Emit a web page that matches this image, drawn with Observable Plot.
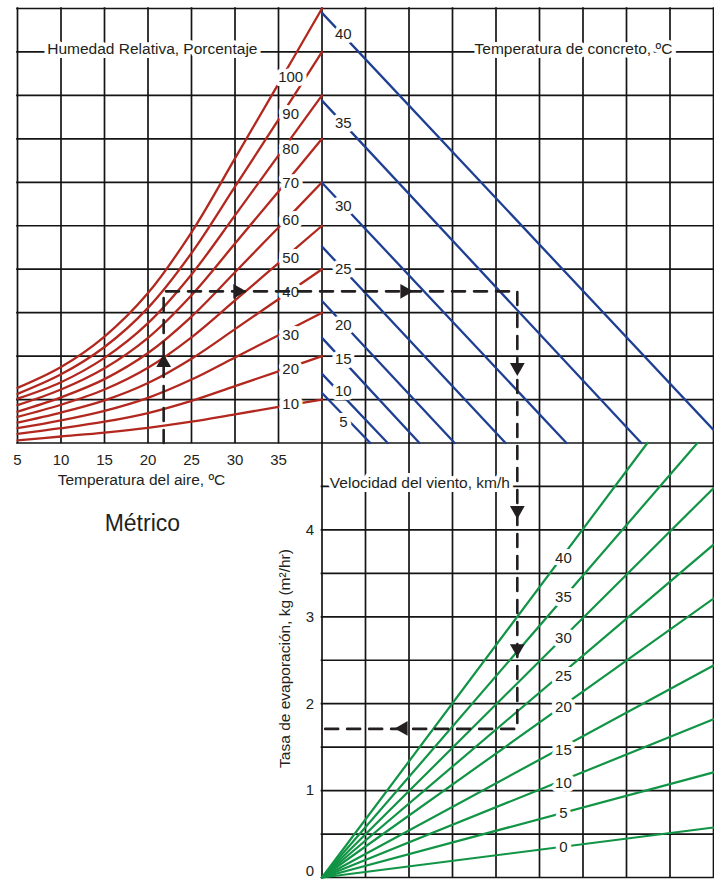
<!DOCTYPE html>
<html><head><meta charset="utf-8">
<script src="https://cdn.jsdelivr.net/npm/d3@7"></script>
<script src="https://cdn.jsdelivr.net/npm/@observablehq/plot@0.6"></script>
<style>
html,body{margin:0;padding:0;background:#fff;}
#chart svg{display:block;}
</style></head><body><div id="chart"></div>
<script>
// ---------- data ----------
// Air temperature (top-left panel, x axis, ºC)
const airTemps = [5, 10, 15, 20, 25, 30, 35, 40];
const airTempTicks = [5, 10, 15, 20, 25, 30, 35];
// Relative humidity curves: height in top panel (grid rows above its bottom) at each air temperature
const rhLevels = [10, 20, 30, 40, 50, 60, 70, 80, 90, 100];
const rhCurves = [
  [0.06, 0.15, 0.24, 0.35, 0.49, 0.66, 0.83, 1.00],
  [0.21, 0.34, 0.49, 0.69, 0.97, 1.31, 1.65, 2.00],
  [0.34, 0.52, 0.74, 1.04, 1.46, 1.97, 2.48, 3.00],
  [0.47, 0.70, 0.98, 1.38, 1.94, 2.62, 3.31, 4.00],
  [0.60, 0.88, 1.23, 1.73, 2.43, 3.28, 4.14, 5.00],
  [0.72, 1.05, 1.47, 2.07, 2.91, 3.93, 4.96, 6.00],
  [0.87, 1.23, 1.72, 2.42, 3.40, 4.59, 5.79, 7.00],
  [1.02, 1.40, 1.96, 2.76, 3.88, 5.24, 6.62, 8.00],
  [1.13, 1.58, 2.21, 3.11, 4.37, 5.90, 7.44, 9.00],
  [1.27, 1.75, 2.45, 3.45, 4.85, 6.55, 8.27, 10.00]
];
const rhLabelAirTemp = 36.4;
const rhLabelHeight = [0.90, 1.71, 2.49, 3.46, 4.26, 5.12, 5.97, 6.77, 7.56, 8.41];

// Concrete temperature lines (top-right panel, grid columns 7..16)
const concreteTemps = [5, 10, 15, 20, 25, 30, 35, 40];
const concreteStartHeight = [1.15, 1.59, 2.42, 3.27, 4.52, 5.99, 7.88, 9.90];
const concreteEndCol = [8.11, 8.51, 9.24, 10.05, 11.22, 12.62, 14.34, 16.0];
const concreteEndHeight = [0, 0, 0, 0, 0, 0, 0, 0.30];
const concreteLabelCol = 7.49;
const concreteLabelHeight = [0.48, 1.20, 1.94, 2.70, 3.99, 5.46, 7.35, 9.42];

// Wind speed lines (bottom panel), evaporation rate kg/(m²·h)
const windSpeeds = [0, 5, 10, 15, 20, 25, 30, 35, 40];
const windEndCol = [16, 16, 16, 16, 16, 16, 16, 15.63, 14.48];
const windEndRate = [0.575, 1.21, 1.82, 2.44, 3.21, 3.83, 4.48, 5.0, 5.0];
const windLabelCol = 12.55;
const windLabelRate = [0.35, 0.74, 1.08, 1.47, 1.96, 2.32, 2.75, 3.22, 3.68];
const rateTicks = [1, 2, 3, 4];
const rateZero = [0];

// Worked example (dashed path)
const exampleAirTemp = 21.8;
const exampleHeight = 3.49;
const exampleCol = 11.49;
const exampleRate = 1.71;
const arrowCols = [3.36, 5.06, 8.90, 11.49, 11.49, 11.49, 8.87];
const arrowRows = [11.85, 13.49, 13.49, 11.74, 8.45, 5.27, 3.43];
const arrowAngles = [0, 90, 90, 180, 180, 180, 270];

// ---------- helpers mapping chart units to the common grid ----------
const col = t => (t - 5) / 5;        // air temperature -> grid column
const topRow = h => 10 + h;          // top panel height -> grid row
const rateRow = r => 2 * r;          // evaporation rate -> grid row

const red = "#b2281f", blue = "#1e3f94", green = "#119445", ink = "#231f20", gridC = "#141414";
const font = "'Liberation Sans', Arial, sans-serif";

const rhData = rhLevels.flatMap((rh, i) => airTemps.map((t, j) => ({rh, x: col(t), y: topRow(rhCurves[i][j])})));
const concreteData = concreteTemps.flatMap((c, i) => [
  {c, x: 7, y: topRow(concreteStartHeight[i])},
  {c, x: concreteEndCol[i], y: topRow(concreteEndHeight[i])}
]);
const windData = windSpeeds.flatMap((w, i) => [
  {w, x: 7, y: 0},
  {w, x: windEndCol[i], y: rateRow(windEndRate[i])}
]);
const examplePath = [
  {x: col(exampleAirTemp), y: 10},
  {x: col(exampleAirTemp), y: topRow(exampleHeight)},
  {x: exampleCol, y: topRow(exampleHeight)},
  {x: exampleCol, y: rateRow(exampleRate)},
  {x: 7, y: rateRow(exampleRate)}
];
const arrows = arrowCols.map((x, i) => ({x, y: arrowRows[i], a: arrowAngles[i]}));
const rhLabels = rhLevels.map((rh, i) => ({t: String(rh), x: col(rhLabelAirTemp), y: topRow(rhLabelHeight[i])}));
const concreteLabels = concreteTemps.map((c, i) => ({t: String(c), x: concreteLabelCol, y: topRow(concreteLabelHeight[i])}));
const windLabels = windSpeeds.map((w, i) => ({t: String(w), x: windLabelCol, y: rateRow(windLabelRate[i])}));

const halo = {fill: ink, stroke: "white", strokeWidth: 8, strokeLinejoin: "round", paintOrder: "stroke", fontSize: 15};
const gridStyle = {stroke: gridC, strokeWidth: 1.7, strokeLinecap: "square"};

const chart = Plot.plot({
  width: 714, height: 882,
  marginLeft: 17, marginRight: 1, marginTop: 8, marginBottom: 5,
  x: {domain: [0, 16], axis: null},
  y: {domain: [0, 20], axis: null},
  style: {fontFamily: font, fontSize: "15px", color: ink, background: "white", overflow: "visible"},
  marks: [
    // grid
    Plot.ruleX(d3.range(0, 17), {y1: 10, y2: 20, ...gridStyle}),
    Plot.ruleY(d3.range(10, 21), {x1: 0, x2: 16, ...gridStyle}),
    Plot.ruleX(d3.range(7, 17), {y1: 0, y2: 10, ...gridStyle}),
    Plot.ruleY(d3.range(0, 10), {x1: 7, x2: 16, ...gridStyle}),
    // curves and lines
    Plot.line(rhData, {x: "x", y: "y", z: "rh", stroke: red, strokeWidth: 2.3, curve: "catmull-rom"}),
    Plot.line(concreteData, {x: "x", y: "y", z: "c", stroke: blue, strokeWidth: 2.3}),
    Plot.line(windData, {x: "x", y: "y", z: "w", stroke: green, strokeWidth: 2.2}),
    // line labels
    Plot.text(rhLabels, {x: "x", y: "y", text: "t", ...halo}),
    Plot.text(concreteLabels, {x: "x", y: "y", text: "t", ...halo}),
    Plot.text(windLabels, {x: "x", y: "y", text: "t", ...halo}),
    // panel titles
    Plot.text(["Humedad Relativa, Porcentaje"], {x: 3.10, y: 19, dy: -3, ...halo, fontSize: 15.5}),
    Plot.text(["Temperatura de concreto, ºC"], {x: 12.78, y: 19, dy: -3, ...halo, fontSize: 15.5}),
    Plot.text(["Velocidad del viento, km/h"], {x: 9.25, y: 9, dy: -3, ...halo, fontSize: 15.5}),
    // axes
    Plot.text(airTempTicks, {x: d => col(d), y: 10, dy: 17, text: d => String(d), fill: ink, fontSize: 15}),
    Plot.text(["Temperatura del aire, ºC"], {x: 2.85, y: 10, dy: 37, fill: ink, fontSize: 15.5}),
    Plot.text(rateTicks, {x: 7, y: d => rateRow(d), dx: -8, textAnchor: "end", text: d => String(d), fill: ink, fontSize: 15}),
    Plot.text(rateZero, {x: 7, y: d => rateRow(d), dx: -8, dy: -6, textAnchor: "end", text: d => String(d), fill: ink, fontSize: 15}),
    Plot.text(["Tasa de evaporación, kg (m²/hr)"], {x: 6.16, y: 5.04, rotate: -90, fill: ink, fontSize: 15.5}),
    Plot.text(["Métrico"], {x: 2.87, y: 8.15, fill: ink, fontSize: 23}),
    // worked example
    Plot.line(examplePath, {x: "x", y: "y", stroke: ink, strokeWidth: 2.6, strokeDasharray: "13,9"}),
    Plot.dot(arrows, {x: "x", y: "y", rotate: "a", symbol: "triangle", r: 5.5, fill: ink, stroke: "none"})
  ]
});
document.getElementById("chart").appendChild(chart);
</script>
</body></html>
